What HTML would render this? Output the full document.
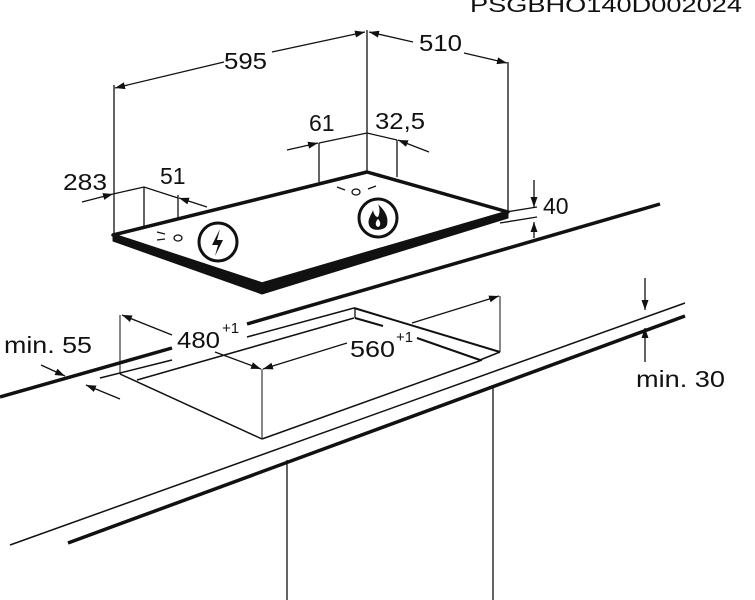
<!DOCTYPE html>
<html><head><meta charset="utf-8"><style>
html,body{margin:0;padding:0;background:#fff;width:755px;height:600px;overflow:hidden}
svg{display:block}
text{font-family:"Liberation Sans",Arial,sans-serif;fill:#111}
</style></head><body>
<svg width="755" height="600" viewBox="0 0 755 600" xmlns="http://www.w3.org/2000/svg">
<defs>
<marker id="a" viewBox="0 0 10 10" refX="10" refY="5" markerWidth="10" markerHeight="10" markerUnits="userSpaceOnUse" orient="auto"><path d="M0,1.5 L10,5 L0,8.5 z" fill="#111"/></marker>
</defs>
<text x="470" y="12" font-size="21" textLength="272" lengthAdjust="spacingAndGlyphs">PSGBHO140D002024</text>

<g stroke="#111" fill="none" stroke-width="1.3">
<line x1="367" y1="30" x2="367" y2="175"/>
<line x1="114" y1="85" x2="114" y2="235"/>
<line x1="508" y1="62" x2="508" y2="212"/>
<line x1="319" y1="143" x2="319" y2="182"/>
<line x1="397" y1="140" x2="397" y2="177"/>
<line x1="144" y1="187" x2="144" y2="226"/>
<line x1="178" y1="195" x2="178" y2="230"/>
<line x1="224" y1="62" x2="115" y2="88" marker-end="url(#a)"/>
<line x1="272" y1="52" x2="365" y2="32" marker-end="url(#a)"/>
<line x1="413" y1="42" x2="369" y2="32" marker-end="url(#a)"/>
<line x1="464" y1="53" x2="507" y2="63" marker-end="url(#a)"/>
<line x1="287" y1="150" x2="318" y2="143" marker-end="url(#a)"/>
<polyline points="319,143 367,133 397,140"/>
<line x1="429" y1="152" x2="398" y2="140" marker-end="url(#a)"/>
<line x1="82" y1="202" x2="113" y2="194" marker-end="url(#a)"/>
<polyline points="113,194 144,187 178,198"/>
<line x1="207" y1="207" x2="179" y2="198" marker-end="url(#a)"/>
<line x1="534" y1="180" x2="534" y2="207" marker-end="url(#a)"/>
<line x1="534" y1="238" x2="534" y2="222" marker-end="url(#a)"/>
<line x1="500" y1="213" x2="537" y2="207"/>
<line x1="500" y1="223" x2="537" y2="217"/>
</g>
<text x="224" y="69" font-size="23" textLength="43" lengthAdjust="spacingAndGlyphs">595</text>
<text x="419" y="51" font-size="23" textLength="43" lengthAdjust="spacingAndGlyphs">510</text>
<text x="309" y="131" font-size="23">61</text>
<text x="375" y="129" font-size="23" textLength="50" lengthAdjust="spacingAndGlyphs">32,5</text>
<text x="63" y="190" font-size="23" textLength="44" lengthAdjust="spacingAndGlyphs">283</text>
<text x="160" y="184" font-size="23">51</text>
<text x="543" y="214" font-size="23">40</text>

<!-- countertop back line (behind hob) -->
<line x1="247" y1="324" x2="660" y2="204" stroke="#111" stroke-width="3.5"/>

<!-- hob -->
<polygon points="113,235 262,286 508,212 508,218 262,294 113,241" fill="#111" stroke="#111" stroke-width="1" stroke-linejoin="round"/>
<polygon points="113,235 367,172 508,212 262,284" fill="#fff" stroke="#111" stroke-width="3.5" stroke-linejoin="round"/>
<g stroke="#111" stroke-width="1.3" fill="none">
<ellipse cx="178" cy="238" rx="4" ry="3"/>
<line x1="157" y1="232" x2="165" y2="234"/><line x1="157" y1="240" x2="165" y2="239"/>
<ellipse cx="356" cy="192" rx="4" ry="3"/>
<line x1="337" y1="187" x2="345" y2="190"/><line x1="368" y1="189" x2="376" y2="186"/>
</g>
<circle cx="218" cy="242" r="19" fill="#fff" stroke="#111" stroke-width="3"/>
<path d="M220,229 L212,245 L218,245 L215,256 L223,240 L217,240 z" fill="#111"/>
<circle cx="378" cy="218" r="19" fill="#fff" stroke="#111" stroke-width="3"/>
<path d="M378,204 C384,210 389,216 387,225 C385,231 371,232 369,225 C367,219 372,214 373,210 C374,215 376,217 378,217 C380,213 380,208 378,204 z" fill="#111"/>
<path d="M378,227 C375,226 375,222 378,219 C381,222 381,226 378,227 z" fill="#fff"/>

<!-- countertop and cutout -->
<g stroke="#111" fill="none">
<line x1="0" y1="397" x2="172" y2="348" stroke-width="3.5"/>
<line x1="100" y1="378" x2="172" y2="360" stroke-width="1.5"/>
<line x1="247" y1="337" x2="354" y2="308" stroke-width="1.5"/>
<line x1="137" y1="380" x2="354" y2="318" stroke-width="1.5"/>
<line x1="354" y1="308" x2="500" y2="352" stroke-width="2"/>
<line x1="355" y1="308" x2="355" y2="318" stroke-width="1.3"/>
<line x1="355" y1="318" x2="383" y2="326" stroke-width="2"/>
<line x1="417" y1="338" x2="480" y2="360" stroke-width="2"/>
<line x1="500" y1="352" x2="480" y2="360" stroke-width="1.5"/>
<line x1="120" y1="374" x2="262" y2="439" stroke-width="1.5"/>
<line x1="262" y1="439" x2="482" y2="360" stroke-width="1.5"/>
<line x1="262" y1="369" x2="262" y2="439" stroke-width="1"/>
<line x1="500" y1="296" x2="500" y2="352" stroke-width="1"/>
<line x1="120" y1="315" x2="120" y2="374" stroke-width="1"/>
<line x1="10" y1="545" x2="685" y2="303" stroke-width="1.5"/>
<line x1="68" y1="543" x2="685" y2="316" stroke-width="3.5"/>
<line x1="287" y1="460" x2="287" y2="600" stroke-width="1.3"/>
<line x1="493" y1="385" x2="493" y2="600" stroke-width="1.3"/>
</g>
<g stroke="#111" fill="none" stroke-width="1.3">
<line x1="172" y1="335" x2="122" y2="315" marker-end="url(#a)"/>
<line x1="215" y1="352" x2="261" y2="369" marker-end="url(#a)"/>
<line x1="347" y1="343" x2="263" y2="369" marker-end="url(#a)"/>
<line x1="412" y1="323" x2="499" y2="296" marker-end="url(#a)"/>
<line x1="41" y1="365" x2="65" y2="376" marker-end="url(#a)"/>
<line x1="120" y1="399" x2="86" y2="385" marker-end="url(#a)"/>
<line x1="645" y1="278" x2="645" y2="310" marker-end="url(#a)"/>
<line x1="645" y1="362" x2="645" y2="328" marker-end="url(#a)"/>
</g>
<text x="177" y="348" font-size="23" textLength="43" lengthAdjust="spacingAndGlyphs">480</text><text x="222" y="333" font-size="15">+1</text>
<text x="350" y="357" font-size="23" textLength="45" lengthAdjust="spacingAndGlyphs">560</text><text x="396" y="342" font-size="15">+1</text>
<text x="4" y="353" font-size="23" textLength="88" lengthAdjust="spacingAndGlyphs">min. 55</text>
<text x="636" y="387" font-size="23" textLength="89" lengthAdjust="spacingAndGlyphs">min. 30</text>
</svg>
</body></html>
